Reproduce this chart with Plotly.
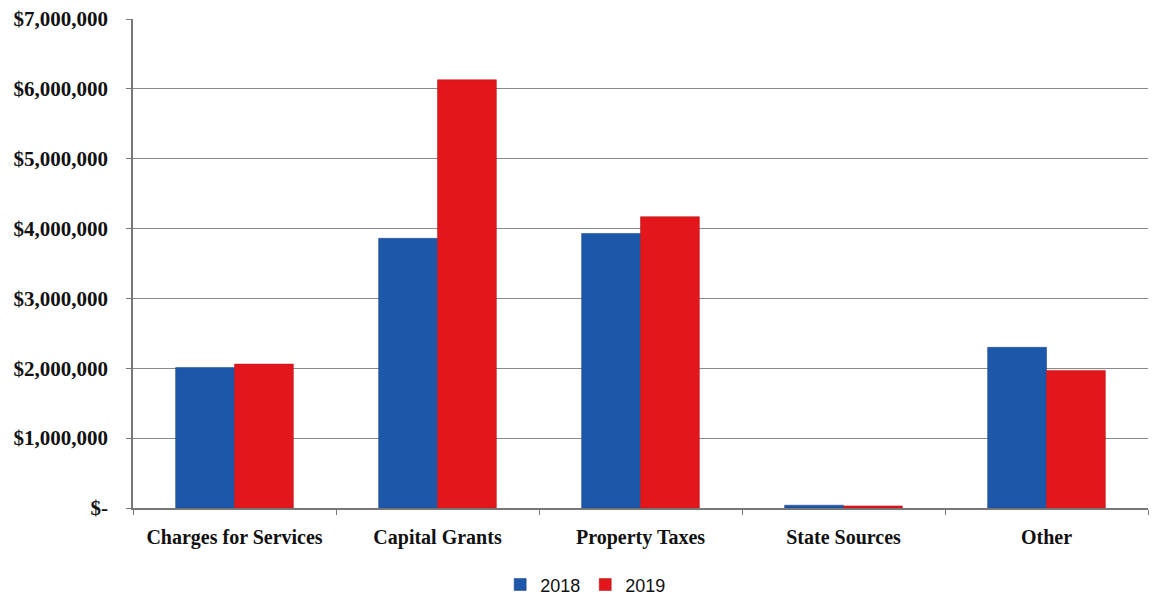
import plotly.graph_objects as go

categories = ["Charges for Services", "Capital Grants", "Property Taxes", "State Sources", "Other"]
values_2018 = [2010000, 3860000, 3930000, 40000, 2300000]
values_2019 = [2060000, 6130000, 4170000, 30000, 1970000]
tick_vals = [0, 1000000, 2000000, 3000000, 4000000, 5000000, 6000000, 7000000]
tick_text = ["$-", "$1,000,000", "$2,000,000", "$3,000,000", "$4,000,000",
             "$5,000,000", "$6,000,000", "$7,000,000"]

fig = go.Figure()
fig.add_trace(go.Bar(name="2018", x=categories, y=values_2018,
                     marker=dict(color="#1d57aa", line=dict(color="#173f80", width=0.5))))
fig.add_trace(go.Bar(name="2019", x=categories, y=values_2019,
                     marker=dict(color="#e3161b", line=dict(color="#b01010", width=0.5))))

fig.update_layout(
    width=1152, height=599,
    margin=dict(l=133, r=4, t=19, b=91, autoexpand=False),
    paper_bgcolor="white", plot_bgcolor="white",
    barmode="group", bargap=0.42, bargroupgap=0,
    showlegend=True,
    legend=dict(orientation="h", x=0.446, xanchor="center", y=-0.157, yanchor="middle",
                font=dict(family="Liberation Sans, Arial", size=18, color="#111"),
                itemwidth=30, traceorder="normal", bgcolor="rgba(0,0,0,0)"),
)
fig.update_xaxes(
    type="category", showline=True, linecolor="#777", linewidth=1.5,
    ticks="outside", ticklen=5, tickcolor="#777", tickson="boundaries",
    ticklabelstandoff=10,
    tickfont=dict(family="Liberation Serif, Times New Roman", size=20, color="#111"),
    showgrid=False,
    tickvals=categories, ticktext=["<b>%s</b>" % c for c in categories],
)
fig.update_yaxes(
    range=[0, 7000000], tickvals=tick_vals, ticktext=["<b>%s</b>" % t for t in tick_text],
    showline=True, linecolor="#777", linewidth=1.5,
    ticks="outside", ticklen=5, tickcolor="#777",
    showgrid=True, gridcolor="#8a8a8a", gridwidth=1.2,
    ticklabelstandoff=14,
    tickfont=dict(family="Liberation Serif, Times New Roman", size=21, color="#111"),
    zeroline=False,
)

fig.write_html("out.html")
